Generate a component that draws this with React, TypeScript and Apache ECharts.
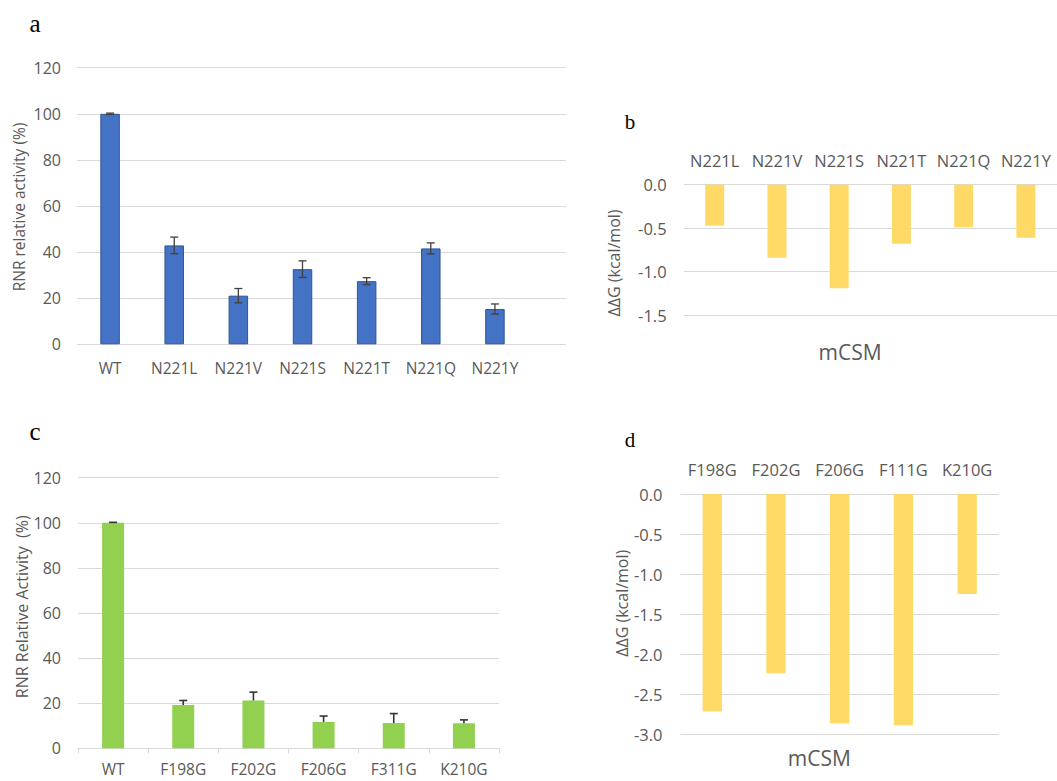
import React, { useEffect, useRef } from "react";
import * as echarts from "echarts";

// ---- data ----
const catsA = ["WT", "N221L", "N221V", "N221S", "N221T", "N221Q", "N221Y"];
const valsA = [100, 42.9, 21.1, 32.6, 27.4, 41.6, 15.3];
const errA = [0.3, 3.6, 3.1, 3.6, 1.5, 2.4, 2.2];

const catsB = ["N221L", "N221V", "N221S", "N221T", "N221Q", "N221Y"];
const valsB = [-0.47, -0.84, -1.19, -0.68, -0.49, -0.61];

const catsC = ["WT", "F198G", "F202G", "F206G", "F311G", "K210G"];
const valsC = [100, 19.2, 21.2, 11.7, 11.2, 11.1];
const errC = [0.2, 2.0, 3.7, 2.6, 4.2, 1.5];

const catsD = ["F198G", "F202G", "F206G", "F111G", "K210G"];
const valsD = [-2.72, -2.24, -2.87, -2.89, -1.25];

const ticksPct = { min: 0, max: 120, interval: 20 };

const FONT = "'Open Sans', 'Noto Sans', sans-serif";
const GRAY = "#595959";
const GRID = "#d9d9d9";

function errSeries(
  vals: number[],
  errs: number[],
  xi: number,
  yi: number,
  both: boolean,
  color: string,
  w: number
) {
  return {
    type: "custom",
    xAxisIndex: xi,
    yAxisIndex: yi,
    z: 5,
    data: vals.map((v, i) => [i, v, errs[i]]),
    renderItem: (params: any, api: any) => {
      const x = api.value(0);
      const y = api.value(1);
      const e = api.value(2);
      const top = api.coord([x, y + e]);
      const bot = api.coord([x, both ? y - e : y]);
      const hw = 4;
      const children: any[] = [
        { type: "line", shape: { x1: top[0], y1: top[1], x2: bot[0], y2: bot[1] }, style: { stroke: color, lineWidth: w } },
        { type: "line", shape: { x1: top[0] - hw, y1: top[1], x2: top[0] + hw, y2: top[1] }, style: { stroke: color, lineWidth: w } },
      ];
      if (both) {
        children.push({ type: "line", shape: { x1: bot[0] - hw, y1: bot[1], x2: bot[0] + hw, y2: bot[1] }, style: { stroke: color, lineWidth: w } });
      }
      return { type: "group", children };
    },
  };
}

function rotText(text: string, x: number, y: number, size: number) {
  return {
    type: "text",
    x,
    y,
    rotation: Math.PI / 2,
    style: { text, fill: GRAY, font: `${size}px ${FONT}`, textAlign: "center", textVerticalAlign: "middle" },
  };
}

function plainText(text: string, x: number, y: number, size: number, family: string, fill: string) {
  return {
    type: "text",
    x,
    y,
    style: { text, fill, font: `${size}px ${family}`, textAlign: "center", textVerticalAlign: "middle" },
  };
}

export default function App() {
  const ref = useRef<HTMLDivElement>(null);
  useEffect(() => {
    document.body.style.margin = "0";
    const chart = echarts.init(ref.current!, undefined, { renderer: "svg" });
    const hiddenVal = { type: "value", show: false };
    const option: any = {
      animation: false,
      backgroundColor: "#ffffff",
      grid: [
        { left: 77, top: 67.7, width: 489, height: 276.6 }, // a gridlines
        { left: 78, top: 67.7, width: 449, height: 276.6 }, // a bars
        { left: 683.6, top: 184.7, width: 376, height: 130.5 }, // b
        { left: 78, top: 477.7, width: 421, height: 270.6 }, // c
        { left: 680.4, top: 494, width: 318.6, height: 240 }, // d
      ],
      xAxis: [
        { gridIndex: 0, ...hiddenVal, min: 0, max: 1 },
        {
          gridIndex: 1,
          type: "category",
          data: catsA,
          axisLine: { show: false },
          axisTick: { show: false },
          axisLabel: { interval: 0, color: GRAY, fontSize: 15.5, fontFamily: FONT, margin: 16 },
        },
        {
          gridIndex: 2,
          type: "category",
          position: "top",
          data: catsB,
          axisLine: { show: false },
          axisTick: { show: false },
          axisLabel: { interval: 0, color: GRAY, fontSize: 16.5, fontFamily: FONT, margin: 16 },
        },
        {
          gridIndex: 3,
          type: "category",
          data: catsC,
          axisLine: { show: true, lineStyle: { color: GRID, width: 1 } },
          axisTick: { show: true, length: 5, lineStyle: { color: GRID } },
          axisLabel: { interval: 0, color: GRAY, fontSize: 15.5, fontFamily: FONT, margin: 13 },
        },
        {
          gridIndex: 4,
          type: "category",
          position: "top",
          data: catsD,
          axisLine: { show: false },
          axisTick: { show: false },
          axisLabel: { interval: 0, color: GRAY, fontSize: 16.5, fontFamily: FONT, margin: 16 },
        },
      ],
      yAxis: [
        {
          gridIndex: 0,
          type: "value",
          ...ticksPct,
          axisLine: { show: false },
          axisTick: { show: false },
          axisLabel: { color: GRAY, fontSize: 16, fontFamily: FONT, margin: 16 },
          splitLine: { lineStyle: { color: GRID, width: 1 } },
        },
        { gridIndex: 1, type: "value", ...ticksPct, show: false, splitLine: { show: false } },
        {
          gridIndex: 2,
          type: "value",
          min: -1.5,
          max: 0,
          interval: 0.5,
          axisLine: { show: false },
          axisTick: { show: false },
          axisLabel: { color: GRAY, fontSize: 16.5, fontFamily: FONT, margin: 17, formatter: (v: number) => v.toFixed(1) },
          splitLine: { lineStyle: { color: GRID, width: 1 } },
        },
        {
          gridIndex: 3,
          type: "value",
          ...ticksPct,
          axisLine: { show: false },
          axisTick: { show: false },
          axisLabel: { color: GRAY, fontSize: 16, fontFamily: FONT, margin: 17 },
          splitLine: { lineStyle: { color: GRID, width: 1 } },
        },
        {
          gridIndex: 4,
          type: "value",
          min: -3,
          max: 0,
          interval: 0.5,
          axisLine: { show: false },
          axisTick: { show: false },
          axisLabel: { color: GRAY, fontSize: 16.5, fontFamily: FONT, margin: 18, formatter: (v: number) => v.toFixed(1) },
          splitLine: { lineStyle: { color: GRID, width: 1 } },
        },
      ],
      series: [
        {
          type: "bar",
          xAxisIndex: 1,
          yAxisIndex: 1,
          data: valsA,
          barWidth: 19.5,
          itemStyle: { color: "#4472C4", borderColor: "#2F5597", borderWidth: 1 },
        },
        errSeries(valsA, errA, 1, 1, true, "#404040", 1.3),
        {
          type: "bar",
          xAxisIndex: 2,
          yAxisIndex: 2,
          data: valsB,
          barWidth: 19,
          itemStyle: { color: "#FFD966" },
        },
        {
          type: "bar",
          xAxisIndex: 3,
          yAxisIndex: 3,
          data: valsC,
          barWidth: 22,
          itemStyle: { color: "#92D050" },
        },
        errSeries(valsC, errC, 3, 3, false, "#333333", 1.6),
        {
          type: "bar",
          xAxisIndex: 4,
          yAxisIndex: 4,
          data: valsD,
          barWidth: 19.3,
          itemStyle: { color: "#FFD966" },
        },
      ],
      graphic: [
        plainText("a", 35, 23, 25, "'Liberation Serif', serif", "#000"),
        plainText("b", 630, 121.7, 21, "'Liberation Serif', serif", "#000"),
        plainText("c", 35, 431.7, 25, "'Liberation Serif', serif", "#000"),
        plainText("d", 630, 440, 21, "'Liberation Serif', serif", "#000"),
        rotText("RNR relative activity (%)", 19, 207, 15.5),
        rotText("ΔΔG (kcal/mol)", 614, 263, 16),
        rotText("RNR Relative Activity  (%)", 21.7, 606.7, 16),
        rotText("ΔΔG (kcal/mol)", 621.7, 603.3, 16),
        plainText("mCSM", 850, 351.7, 21, FONT, GRAY),
        plainText("mCSM", 819.3, 758.3, 21, FONT, GRAY),
      ],
    };
    chart.setOption(option);
    return () => chart.dispose();
  }, []);
  return <div ref={ref} style={{ width: 1057, height: 781 }} />;
}
